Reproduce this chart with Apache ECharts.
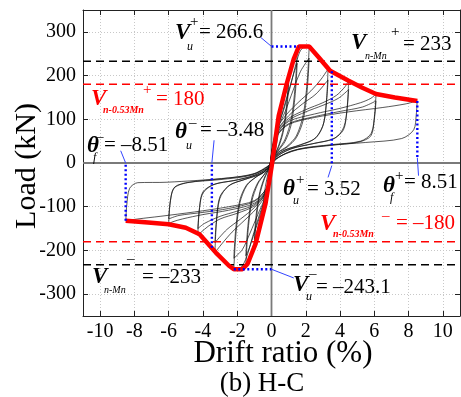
<!DOCTYPE html>
<html>
<head>
<meta charset="utf-8">
<script src="https://cdn.jsdelivr.net/npm/echarts@6/dist/echarts.min.js"></script>
<style>
    html, body {margin: 0; padding: 0; background: #fff;}
    #main {width: 461px; height: 397px;}
</style>
</head>
<body>
<div id="main"></div>
<script>
// 轴刻度
var xTicks = [-10, -8, -6, -4, -2, 0, 2, 4, 6, 8, 10];
var yTicks = [-300, -200, -100, 0, 100, 200, 300];

// 滞回曲线 [位移角 %, 荷载 kN]，每个循环一个数组
var cyc025 = [[0,0],[0.1,28],[0.2,50],[0.25,60],[0.2,35],[0.1,12],[0,-8],[-0.1,-30],[-0.2,-50],[-0.25,-58],[-0.2,-34],[-0.1,-10],[0,8]];
var cyc05 = [[0,8],[0.15,40],[0.3,75],[0.42,100],[0.5,112],[0.42,75],[0.28,40],[0.12,12],[0,-10],[-0.15,-42],[-0.3,-75],[-0.42,-96],[-0.5,-108],[-0.42,-70],[-0.28,-38],[-0.12,-10],[0,12]];
var cyc10a = [[0,12],[0.2,55],[0.45,105],[0.7,155],[0.9,188],[1.0,200],[0.9,140],[0.7,80],[0.4,38],[0.15,15],[0,-10],[-0.2,-55],[-0.45,-105],[-0.7,-150],[-0.9,-182],[-1.0,-195],[-0.9,-135],[-0.7,-75],[-0.4,-35],[-0.15,-12],[0,15]];
var cyc10b = [[0,15],[0.25,60],[0.5,105],[0.75,150],[0.92,172],[1.0,182],[0.9,125],[0.68,70],[0.4,35],[0.15,15],[0,-12],[-0.25,-60],[-0.5,-102],[-0.75,-142],[-0.92,-166],[-1.0,-175],[-0.9,-120],[-0.68,-66],[-0.4,-32],[-0.15,-12],[0,18]];
var cyc15a = [[0,18],[0.25,70],[0.6,125],[0.95,180],[1.25,225],[1.42,248],[1.5,255],[1.38,175],[1.15,100],[0.8,55],[0.4,30],[0.1,12],[0,-15],[-0.25,-70],[-0.6,-125],[-0.95,-175],[-1.25,-212],[-1.42,-230],[-1.5,-235],[-1.38,-160],[-1.15,-88],[-0.8,-48],[-0.4,-25],[-0.1,-8],[0,20]];
var cyc15b = [[0,20],[0.3,72],[0.65,118],[1.0,165],[1.3,205],[1.5,228],[1.38,155],[1.15,88],[0.8,50],[0.4,28],[0.1,10],[0,-18],[-0.3,-72],[-0.65,-118],[-1.0,-160],[-1.3,-195],[-1.5,-212],[-1.38,-145],[-1.15,-80],[-0.8,-45],[-0.4,-25],[-0.1,-8],[0,22]];
var cyc22a = [[0,22],[0.3,75],[0.7,120],[1.1,175],[1.45,230],[1.7,258],[2.0,266],[2.2,266],[2.08,185],[1.85,110],[1.45,62],[0.9,38],[0.4,25],[0.1,10],[0,-18],[-0.3,-72],[-0.7,-118],[-1.1,-168],[-1.45,-215],[-1.75,-238],[-2.0,-243],[-2.2,-243],[-2.08,-165],[-1.85,-92],[-1.45,-52],[-0.9,-32],[-0.4,-20],[-0.1,-6],[0,24]];
var cyc22b = [[0,24],[0.35,78],[0.8,118],[1.25,165],[1.7,210],[2.2,240],[2.08,165],[1.85,98],[1.45,58],[0.9,36],[0.4,24],[0.1,8],[0,-20],[-0.35,-76],[-0.8,-118],[-1.25,-160],[-1.7,-198],[-2.2,-218],[-2.08,-148],[-1.85,-85],[-1.45,-50],[-0.9,-32],[-0.4,-20],[-0.1,-6],[0,25]];
var cyc33a = [[0,25],[0.3,78],[0.9,112],[1.6,140],[2.3,165],[2.9,192],[3.3,215],[3.22,150],[3.05,92],[2.6,58],[1.7,42],[0.8,30],[0.15,12],[0,-18],[-0.3,-70],[-0.9,-105],[-1.6,-132],[-2.3,-158],[-2.9,-185],[-3.3,-205],[-3.22,-140],[-3.02,-82],[-2.5,-52],[-1.6,-38],[-0.7,-26],[-0.1,-8],[0,22]];
var cyc33b = [[0,22],[0.35,75],[1.0,108],[1.8,135],[2.6,158],[3.3,190],[3.2,135],[3.0,85],[2.5,55],[1.6,40],[0.7,28],[0.15,10],[0,-18],[-0.35,-70],[-1.0,-102],[-1.8,-128],[-2.6,-152],[-3.3,-182],[-3.2,-125],[-3.0,-76],[-2.4,-50],[-1.5,-37],[-0.6,-24],[-0.1,-6],[0,20]];
var cyc45a = [[0,20],[0.3,72],[1.0,102],[2.0,122],[3.0,138],[3.8,155],[4.3,175],[4.5,188],[4.42,130],[4.22,82],[3.7,57],[2.5,45],[1.2,33],[0.2,12],[0,-16],[-0.3,-66],[-1.0,-98],[-2.0,-115],[-3.0,-128],[-3.7,-145],[-4.1,-158],[-4.3,-165],[-4.22,-112],[-4.02,-70],[-3.4,-50],[-2.2,-40],[-1.0,-28],[-0.15,-8],[0,18]];
var cyc45b = [[0,18],[0.3,68],[1.0,98],[2.0,117],[3.0,132],[3.9,148],[4.5,168],[4.4,118],[4.2,76],[3.6,55],[2.4,44],[1.1,32],[0.2,10],[0,-16],[-0.3,-64],[-1.0,-95],[-2.0,-110],[-3.0,-122],[-3.9,-138],[-4.3,-150],[-4.2,-102],[-4.0,-66],[-3.3,-48],[-2.0,-39],[-0.9,-27],[-0.15,-8],[0,16]];
var cyc60a = [[0,16],[0.3,65],[1.0,95],[2.5,112],[4.0,125],[5.2,138],[5.8,148],[6.1,158],[6.02,112],[5.82,68],[5.2,50],[3.5,42],[1.6,32],[0.2,8],[0,-15],[-0.3,-62],[-1.0,-92],[-2.5,-108],[-4.0,-118],[-5.2,-128],[-5.8,-135],[-6.0,-140],[-5.92,-94],[-5.7,-58],[-4.9,-45],[-3.0,-38],[-1.2,-28],[-0.15,-6],[0,15]];
var cyc60b = [[0,15],[0.3,62],[1.0,90],[2.5,106],[4.0,118],[5.3,128],[6.1,142],[6.0,100],[5.8,62],[5.1,48],[3.4,40],[1.5,30],[0.2,8],[0,-14],[-0.3,-58],[-1.0,-88],[-2.5,-104],[-4.0,-113],[-5.4,-120],[-6.0,-128],[-5.9,-86],[-5.65,-55],[-4.8,-44],[-2.9,-36],[-1.1,-26],[-0.15,-6],[0,14]];
var cyc85 = [[0,14],[0.3,60],[1.0,88],[2.5,104],[4.5,117],[6.5,127],[7.8,135],[8.5,142],[8.45,112],[8.3,76],[7.6,56],[5.5,47],[3.2,40],[1.2,28],[0.2,6],[0,-14],[-0.3,-58],[-1.0,-86],[-2.5,-100],[-4.5,-112],[-6.5,-122],[-7.8,-128],[-8.5,-132],[-8.45,-98],[-8.28,-58],[-7.8,-45],[-6.1,-44],[-2.5,-34],[-1.0,-24],[-0.1,-4]];

// 骨架曲线
var envelope = [[-8.51,-132],[-7.2,-136],[-6.0,-140],[-5.0,-148],[-4.2,-163],[-3.25,-205],[-2.48,-235],[-2.2,-243.1],[-1.7,-243.1],[-1.4,-231],[-0.93,-185],[-0.35,-93],[0,-10],[0.42,108],[0.9,183],[1.3,238],[1.6,266.6],[2.2,266.6],[2.75,242],[3.42,211],[4.5,188],[5.3,172],[6.1,158],[7.2,150],[8.51,142]];

// 参考线
var blackLevels = [233, -233];
var redLevels = [180, -180];

// 蓝色点线 (峰值及极限位移)
var dotPeakPos = [[0,266.6],[1.6,266.6]];
var dotPeakNeg = [[-2.2,-243.1],[0,-243.1]];
var dotThetaUPos = [[3.52,210],[3.52,-6]];
var dotThetaFPos = [[8.51,142],[8.51,12]];
var dotThetaUNeg = [[-3.48,-194],[-3.48,0]];
var dotThetaFNeg = [[-8.51,-132],[-8.51,0]];
// 引线
var leaders = [
    [[0,266.6],[-0.62,287]],
    [[3.52,-6],[3.3,-33]],
    [[8.51,12],[8.58,-29]],
    [[-8.51,0],[-8.8,28]],
    [[-3.48,0],[-3.35,52]],
    [[0,-243.1],[1.3,-263]]
];

var serif = 'Liberation Serif';

// 注释文字: [文本, x, y, 类型, 颜色]
var notes = [
    ['V',175,33,'sym'],['u',187,47,'sub'],['+',190,22,'sup'],['= 266.6',199,32,'val'],
    ['V',351,43,'sym'],['n-Mn',365,56,'subs'],['+',391,32,'sup'],['= 233',403,44,'val'],
    ['V',91,99,'sym','#ff0000'],['n-0.53Mn',103,110,'subs','#ff0000'],['+',143,90,'sup','#ff0000'],['= 180',156,99,'val','#ff0000'],
    ['\u03b8',87,146,'sym'],['f',93,158,'sub'],['\u2013',96,137,'sup'],['= \u20138.51',104,145,'val'],
    ['\u03b8',175,132,'sym'],['u',186,146,'sub'],['\u2013',189,123,'sup'],['= \u20133.48',200,130,'val'],
    ['\u03b8',283,189,'sym'],['u',293,201,'sub'],['+',296,180,'sup'],['= 3.52',307,189,'val'],
    ['\u03b8',383,186,'sym'],['f',390,198,'sub'],['+',395,176,'sup'],['= 8.51',404,182,'val'],
    ['V',320,224,'sym','#ff0000'],['n-0.53Mn',333,234,'subs','#ff0000'],['\u2013',382,216,'sup','#ff0000'],['= \u2013180',396,223,'val','#ff0000'],
    ['V',92,277,'sym'],['n-Mn',104,290,'subs'],['\u2013',127,259,'sup'],['= \u2013233',142,277,'val'],
    ['V',293,285,'sym'],['u',306,297,'sub'],['\u2013',309,274,'sup'],['= \u2013243.1',316,287,'val']
];

var noteStyle = {
    sym: {fontSize: 23, fontStyle: 'italic', fontWeight: 'bold'},
    sub: {fontSize: 12, fontStyle: 'italic', fontWeight: 'normal'},
    subs: {fontSize: 10, fontStyle: 'italic', fontWeight: 'normal'},
    sup: {fontSize: 15, fontStyle: 'normal', fontWeight: 'normal'},
    val: {fontSize: 21, fontStyle: 'normal', fontWeight: 'normal'}
};

function lineSeries(data, color, width, type, z) {
    return {
        type: 'line',
        data: data,
        symbol: 'none',
        silent: true,
        animation: false,
        z: z,
        lineStyle: {color: color, width: width, type: type}
    };
}

function titleText(text, x, y, size, rot) {
    return {
        type: 'text', x: x, y: y, rotation: rot || 0, z: 100, silent: true,
        style: {
            text: text, fill: '#000', fontFamily: serif, fontSize: size,
            fontWeight: 'normal', fontStyle: 'normal', align: 'center', verticalAlign: 'middle'
        }
    };
}

function buildNotes() {
    var els = [];
    notes.forEach(function (n) {
        var st = noteStyle[n[3]];
        els.push({
            type: 'text',
            x: n[1],
            y: n[2],
            z: 100,
            silent: true,
            style: {
                text: n[0],
                fill: n[4] || '#000',
                fontFamily: serif,
                fontSize: st.fontSize,
                fontStyle: st.fontStyle,
                fontWeight: n[4] && n[3] === 'subs' ? 'bold' : st.fontWeight,
                align: 'left',
                verticalAlign: 'middle'
            }
        });
    });
    // 坐标轴标题
    els.push(titleText('Load (kN)', 27, 166, 30, Math.PI / 2));
    els.push(titleText('Drift ratio (%)', 283, 354, 31));
    els.push(titleText('(b) H-C', 262, 384, 27));
    return els;
}

var myChart = echarts.init(document.getElementById('main'), null, {renderer: 'canvas'});

var axisLineStyle = {color: '#222', width: 1};
var gridLine = {show: true, lineStyle: {color: '#c8c8c8', type: [1, 2], width: 1}};
var tickFont = {fontFamily: serif, fontSize: 20, color: '#000', fontWeight: 'normal'};

var series = [];
// 零线
series.push(lineSeries([[-11, 0], [11, 0]], '#7a7a7a', 1.8, 'solid', 1));
series.push(lineSeries([[0, -350], [0, 350]], '#7a7a7a', 1.8, 'solid', 1));
// 滞回曲线
[cyc025, cyc05, cyc10a, cyc10b, cyc15a, cyc15b, cyc22a, cyc22b, cyc33a, cyc33b,
    cyc45a, cyc45b, cyc60a, cyc60b, cyc85].forEach(function (c) {
    var s = lineSeries(c, '#111', 0.7, 'solid', 3);
    s.smooth = 0.3;
    series.push(s);
});
// 水平参考线
blackLevels.forEach(function (v) {
    series.push(lineSeries([[-11, v], [11, v]], '#000', 1.5, [8, 5], 4));
});
redLevels.forEach(function (v) {
    series.push(lineSeries([[-11, v], [11, v]], '#ff0000', 1.5, [8, 5], 4));
});
// 骨架曲线
series.push(lineSeries(envelope, '#ff0000', 4.5, 'solid', 5));
// 蓝色点线
[dotPeakPos, dotPeakNeg, dotThetaUPos, dotThetaFPos, dotThetaUNeg, dotThetaFNeg].forEach(function (d) {
    series.push(lineSeries(d, '#0000ff', 2.4, [2, 2.5], 6));
});
leaders.forEach(function (d) {
    series.push(lineSeries(d, '#3344ff', 1, 'solid', 6));
});

var option = {
    animation: false,
    backgroundColor: '#fff',
    textStyle: {fontFamily: serif},
    grid: {left: 83, top: 10, right: 1, bottom: 81},
    xAxis: [
        {
            type: 'value', min: -11, max: 11, position: 'bottom',
            axisLine: {onZero: false, lineStyle: axisLineStyle},
            axisTick: {inside: true, length: 5, customValues: xTicks, lineStyle: axisLineStyle},
            axisLabel: Object.assign({customValues: xTicks, margin: 6}, tickFont),
            splitLine: gridLine
        },
        {
            type: 'value', min: -11, max: 11, position: 'top',
            axisLine: {onZero: false, lineStyle: axisLineStyle},
            axisTick: {inside: true, length: 5, customValues: xTicks, lineStyle: axisLineStyle},
            axisLabel: {show: false},
            splitLine: {show: false}
        }
    ],
    yAxis: [
        {
            type: 'value', min: -350, max: 350, position: 'left',
            axisLine: {onZero: false, lineStyle: axisLineStyle},
            axisTick: {inside: true, length: 5, customValues: yTicks, lineStyle: axisLineStyle},
            axisLabel: Object.assign({customValues: yTicks, margin: 7}, tickFont),
            splitLine: gridLine
        },
        {
            type: 'value', min: -350, max: 350, position: 'right',
            axisLine: {onZero: false, lineStyle: axisLineStyle},
            axisTick: {inside: true, length: 5, customValues: yTicks, lineStyle: axisLineStyle},
            axisLabel: {show: false},
            splitLine: {show: false}
        }
    ],
    graphic: buildNotes(),
    series: series
};

myChart.setOption(option);
</script>
</body>
</html>
